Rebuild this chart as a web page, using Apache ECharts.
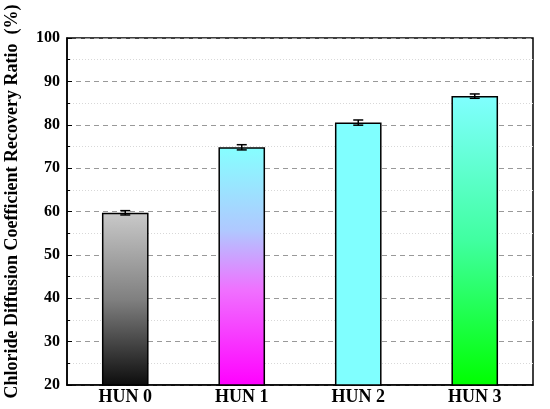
<!DOCTYPE html>
<html>
<head>
<meta charset="utf-8">
<script src="https://cdn.jsdelivr.net/npm/echarts@6/dist/echarts.min.js"></script>
<style>html,body{margin:0;padding:0;background:#fff;}#c{width:550px;height:409px;}</style>
</head>
<body>
<div id="c"></div>
<script>
var categories = ['HUN 0', 'HUN 1', 'HUN 2', 'HUN 3'];
var values = [59.7, 74.8, 80.5, 86.6];
var errors = [0.5, 0.6, 0.6, 0.5];
var yTitle = 'Chloride Diffusion Coefficient Recovery Ratio  (%)';

var gradients = [
  [[0, '#c9c9c9'], [0.5, '#808080'], [1, '#0c0c0c']],
  [[0, '#86ffff'], [0.35, '#b0c8ff'], [0.6, '#f070ff'], [1, '#ff00ff']],
  [[0, '#80ffff'], [1, '#80ffff']],
  [[0, '#80ffff'], [0.5, '#40ffa0'], [1, '#00ff00']]
];

var font = '"Liberation Serif", "Times New Roman", serif';
var chart = echarts.init(document.getElementById('c'), null, {renderer: 'canvas'});

var barData = values.map(function (v, i) {
  return {
    value: v,
    itemStyle: {
      color: new echarts.graphic.LinearGradient(0, 0, 0, 1, gradients[i].map(function (s) {
        return {offset: s[0], color: s[1]};
      }))
    }
  };
});

var errData = values.map(function (v, i) { return [i, v - errors[i], v + errors[i]]; });

chart.setOption({
  animation: false,
  grid: {left: 67, right: 17, top: 38, bottom: 24, show: true, borderColor: '#000', borderWidth: 1.5, backgroundColor: 'transparent', containLabel: false, outerBoundsMode: 'none'},
  xAxis: {
    type: 'category',
    data: categories,
    axisLine: {lineStyle: {color: '#000', width: 1.5}},
    axisTick: {show: false},
    axisLabel: {color: '#000', fontFamily: font, fontWeight: 'bold', fontSize: 18, margin: 3}
  },
  yAxis: {
    type: 'value',
    min: 20, max: 100, interval: 10,
    name: yTitle,
    nameLocation: 'middle',
    nameGap: 46,
    nameTextStyle: {color: '#000', fontFamily: font, fontWeight: 'bold', fontSize: 18, padding: [0, 0, 0, 20]},
    axisLine: {show: true, lineStyle: {color: '#000', width: 1.5}},
    axisTick: {show: true, inside: true, length: 5, lineStyle: {color: '#000', width: 1}},
    minorTick: {show: true, splitNumber: 2, length: 3, lineStyle: {color: '#000'}},
    axisLabel: {color: '#000', fontFamily: font, fontWeight: 'bold', fontSize: 16, margin: 7},
    splitLine: {show: true, lineStyle: {color: '#999999', type: [5, 4], width: 1}},
    minorSplitLine: {show: true, lineStyle: {color: '#d8d8d8', type: [1, 2], width: 1}}
  },
  series: [
    {
      type: 'bar',
      data: barData,
      barWidth: '40%',
      itemStyle: {borderColor: '#000', borderWidth: 1.5},
      z: 2
    },
    {
      type: 'custom',
      data: errData,
      z: 5,
      renderItem: function (params, api) {
        var x = api.value(0);
        var lo = api.coord([x, api.value(1)]);
        var hi = api.coord([x, api.value(2)]);
        var w = 5;
        var st = {stroke: '#000', lineWidth: 1.5};
        return {
          type: 'group',
          children: [
            {type: 'line', shape: {x1: lo[0], y1: lo[1], x2: hi[0], y2: hi[1]}, style: st},
            {type: 'line', shape: {x1: lo[0] - w, y1: lo[1], x2: lo[0] + w, y2: lo[1]}, style: st},
            {type: 'line', shape: {x1: hi[0] - w, y1: hi[1], x2: hi[0] + w, y2: hi[1]}, style: st}
          ]
        };
      }
    }
  ]
});
</script>
</body>
</html>
